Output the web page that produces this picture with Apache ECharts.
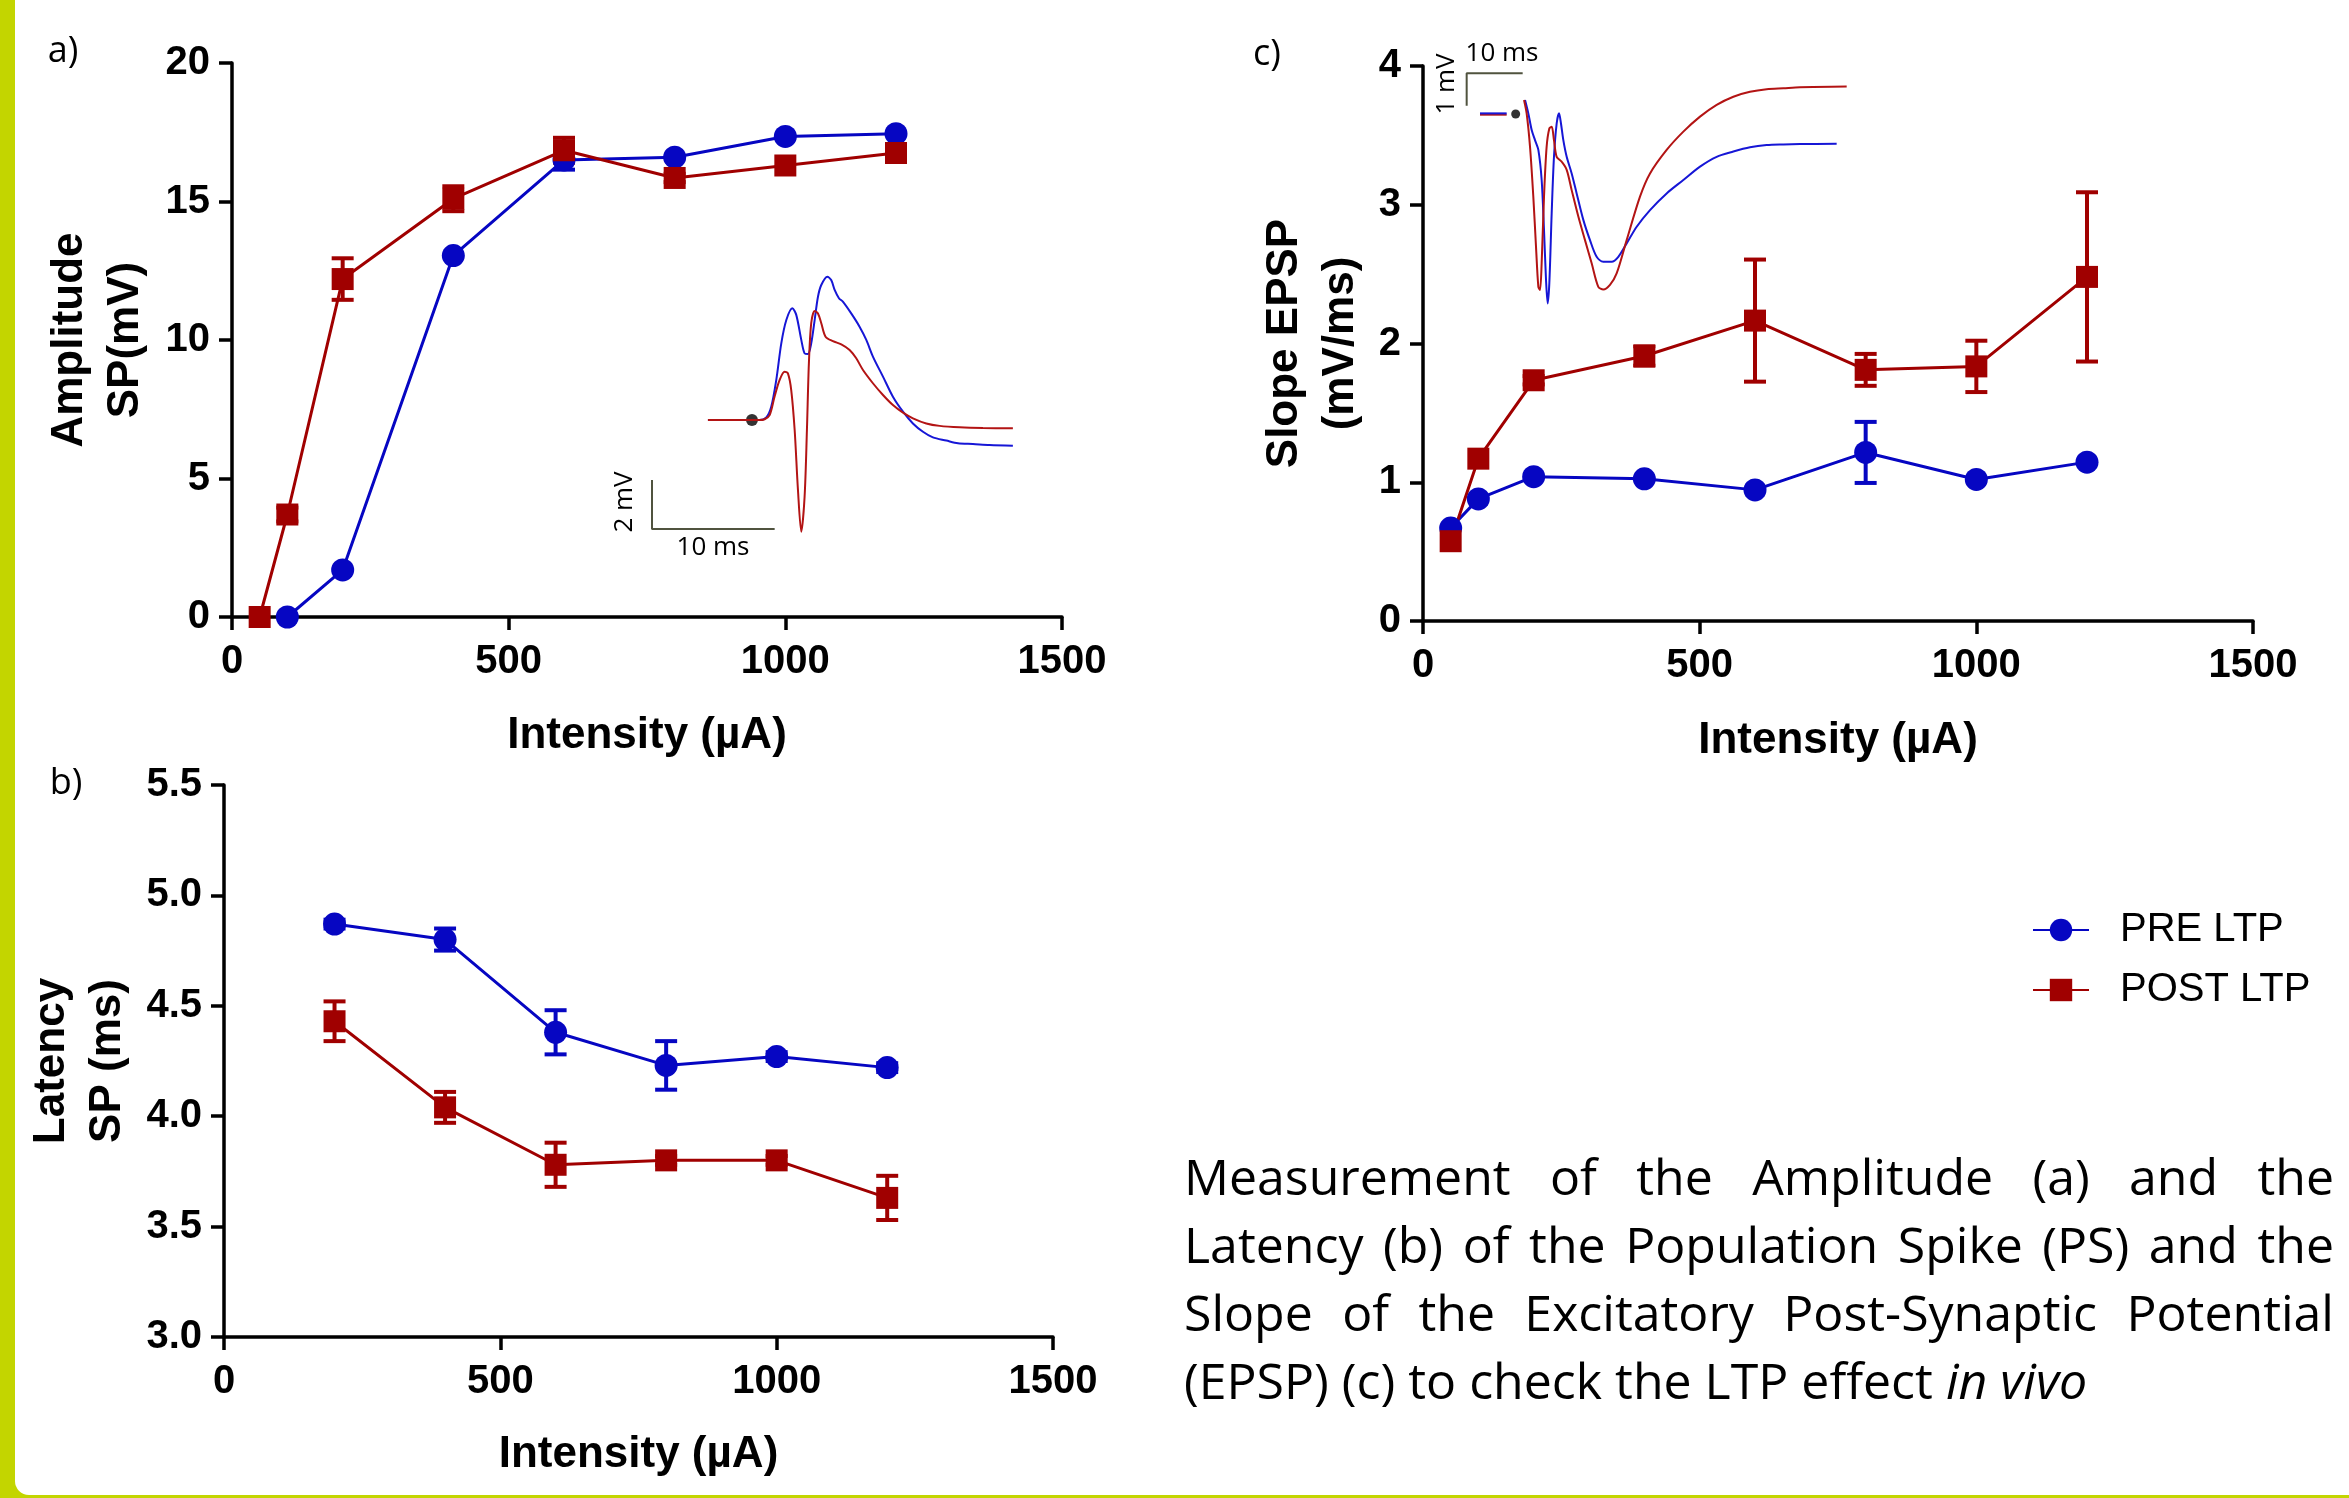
<!DOCTYPE html>
<html>
<head>
<meta charset="utf-8">
<script src="https://cdn.jsdelivr.net/npm/echarts@6/dist/echarts.min.js"></script>
<style>
  html, body { margin: 0; padding: 0; width: 2349px; height: 1498px; overflow: hidden; background: #c3d500; }
  #sheet { position: absolute; left: 15px; top: 0; width: 2334px; height: 1495px; background: #fff; border-bottom-left-radius: 14px; }
  #chart { position: absolute; left: 0; top: 0; width: 2349px; height: 1498px; }
  #caption { position: absolute; left: 1184px; top: 1142px; width: 1150px; font-family: 'Open Sans', sans-serif; font-size: 50px; line-height: 68px; color: #000; }
  #caption div { white-space: nowrap; text-align: justify; text-align-last: justify; }
  #caption div.last { text-align-last: left; }
</style>
</head>
<body>
<div id="sheet"></div>
<div id="chart"></div>
<div id="caption">
  <div>Measurement of the Amplitude (a) and the</div>
  <div>Latency (b) of the Population Spike (PS) and the</div>
  <div>Slope of the Excitatory Post-Synaptic Potential</div>
  <div class="last">(EPSP) (c) to check the LTP effect <i>in vivo</i></div>
</div>
<script>
// x axis ticks (Intensity, µA) shared by the three panels
const intensityTicks = [0, 500, 1000, 1500];

// a) Amplitude SP (mV)
const ampTicks = [0, 5, 10, 15, 20];
const ampPreX = [100, 200, 400, 600, 800, 1000, 1200];
const ampPreY = [0, 1.7, 13.05, 16.5, 16.6, 17.35, 17.45];
const ampPreErr = [0, 0, 0, 0.35, 0, 0, 0];
const ampPostX = [50, 100, 200, 400, 600, 800, 1000, 1200];
const ampPostY = [0, 3.7, 12.2, 15.1, 16.85, 15.85, 16.3, 16.75];
const ampPostErr = [0, 0.25, 0.75, 0.45, 0.45, 0.15, 0, 0];

// b) Latency SP (ms)
const latTicks = [3.0, 3.5, 4.0, 4.5, 5.0, 5.5];
const latX = [200, 400, 600, 800, 1000, 1200];
const latPreY = [4.87, 4.8, 4.38, 4.23, 4.27, 4.22];
const latPreErr = [0.02, 0.05, 0.1, 0.11, 0.02, 0.02];
const latPostY = [4.43, 4.04, 3.78, 3.8, 3.8, 3.63];
const latPostErr = [0.09, 0.07, 0.1, 0.02, 0.02, 0.1];

// c) Slope EPSP (mV/ms)
const slopeTicks = [0, 1, 2, 3, 4];
const slopeX = [50, 100, 200, 400, 600, 800, 1000, 1200];
const slopePreY = [0.67, 0.88, 1.04, 1.025, 0.945, 1.215, 1.02, 1.145];
const slopePreErr = [0, 0, 0, 0, 0, 0.22, 0, 0];
const slopePostY = [0.575, 1.17, 1.735, 1.91, 2.165, 1.81, 1.835, 2.48];
const slopePostErr = [0, 0, 0.03, 0.07, 0.44, 0.115, 0.185, 0.61];

// inset a: population spike traces (ms, mV)
const psPreT = [0, 4.2, 4.76, 5.16, 5.57, 5.98, 6.39, 6.88, 7.2, 7.61, 7.88, 8.15, 8.42, 8.7, 8.97, 9.24, 9.73, 10.05, 10.33, 10.68, 11.0, 11.68, 12.36, 12.91, 13.45, 14.27, 15.08, 15.9, 16.71, 17.53, 18.34, 19.43, 20.38, 21.6, 22.96, 24.86];
const psPreV = [0, 0, 0.11, 0.54, 1.63, 3.13, 4.08, 4.56, 4.29, 3.27, 2.72, 2.69, 3.13, 4.08, 5.03, 5.51, 5.85, 5.71, 5.31, 4.97, 4.83, 4.35, 3.81, 3.27, 2.59, 1.77, 0.95, 0.34, -0.14, -0.48, -0.71, -0.84, -0.95, -0.98, -1.02, -1.05];
const psPostT = [0, 4.2, 4.62, 5.03, 5.43, 5.84, 6.25, 6.52, 6.79, 7.07, 7.34, 7.61, 7.88, 8.07, 8.23, 8.42, 8.7, 8.97, 9.24, 9.59, 10.19, 10.87, 11.55, 12.09, 12.64, 13.45, 14.27, 15.08, 15.9, 16.71, 17.8, 18.89, 20.52, 22.42, 24.86];
const psPostV = [0, 0, 0.03, 0.2, 0.95, 1.63, 1.97, 1.9, 1.22, -0.41, -2.86, -4.56, -3.13, -0.41, 2.31, 3.95, 4.45, 4.35, 3.95, 3.4, 3.22, 3.09, 2.86, 2.52, 2.04, 1.5, 1.02, 0.61, 0.3, 0.07, -0.14, -0.24, -0.3, -0.33, -0.34];
const psStim = [3.59, 0];
const psBarT = [-4.56, -4.56, 5.44];
const psBarV = [-2.45, -4.45, -4.45];

// inset c: field EPSP traces (ms, mV)
const epspBaseT = [0, 4.76];
const epspPreBaseV = [0.02, 0.02];
const epspPostBaseV = [-0.02, -0.02];
const epspPreT = [8.04, 8.63, 9.23, 9.82, 10.42, 11.01, 11.43, 11.79, 12.08, 12.38, 12.8, 13.21, 13.69, 14.11, 14.46, 14.88, 15.48, 16.37, 17.26, 18.45, 19.64, 20.83, 22.02, 23.51, 24.7, 26.19, 27.98, 30.36, 33.33, 36.31, 39.29, 42.26, 45.24, 48.21, 51.19, 54.17, 57.14, 63.69];
const epspPreV = [0.43, 0.02, -0.49, -0.8, -1.1, -2.02, -3.55, -5.08, -5.8, -5.18, -3.04, -1.31, -0.29, 0.02, -0.29, -0.8, -1.31, -1.82, -2.43, -3.24, -3.86, -4.37, -4.52, -4.52, -4.37, -3.96, -3.45, -2.94, -2.43, -2.02, -1.61, -1.31, -1.15, -1.02, -0.95, -0.93, -0.92, -0.91];
const epspPostT = [7.86, 8.33, 8.93, 9.52, 10.0, 10.42, 10.71, 11.01, 11.43, 11.9, 12.38, 12.8, 13.21, 13.69, 14.58, 15.48, 16.37, 17.56, 18.75, 19.94, 21.13, 22.02, 23.21, 24.4, 26.19, 28.57, 30.36, 33.33, 36.31, 39.29, 42.26, 45.24, 48.21, 51.19, 54.17, 57.14, 65.48];
const epspPostV = [0.43, 0.02, -1.0, -2.53, -4.06, -5.29, -5.39, -4.57, -2.53, -1.0, -0.44, -0.39, -0.8, -1.31, -1.46, -1.71, -2.33, -3.14, -3.86, -4.57, -5.29, -5.37, -5.23, -4.88, -3.86, -2.53, -1.82, -1.1, -0.54, -0.08, 0.28, 0.53, 0.68, 0.76, 0.79, 0.82, 0.84];
const epspStim = [6.37, 0];
const epspBarT = [-2.38, -2.38, 7.62];
const epspBarV = [0.25, 1.25, 1.25];

const BLUE = '#0606c2';
const RED = '#a00000';
const TRACE_BLUE = '#1616d6';
const TRACE_RED = '#b31414';
const BAR_COLOR = '#50533f';
const BOLD = "'Liberation Sans', Arial, sans-serif";

const pairs = (xs, ys) => xs.map((x, i) => [x, ys[i]]);
const triples = (xs, ys, es) => xs.map((x, i) => [x, ys[i], es[i]]);

function tickLabel(extra) {
  return Object.assign({ fontFamily: BOLD, fontWeight: 'bold', fontSize: 40, color: '#000', margin: 22 }, extra);
}

function valueAxis(idx, ticks, opts) {
  return Object.assign({
    gridIndex: idx,
    type: 'value',
    min: ticks[0],
    max: ticks[ticks.length - 1],
    interval: ticks[1] - ticks[0],
    nameLocation: 'middle',
    nameTextStyle: { fontFamily: BOLD, fontWeight: 'bold', fontSize: 44, color: '#000', lineHeight: 56 },
    axisLine: { show: true, onZero: false, lineStyle: { color: '#000', width: 3.5 } },
    axisTick: { show: true, inside: false, length: 13, lineStyle: { color: '#000', width: 3.5 } },
    axisLabel: tickLabel({ formatter: v => String(v) }),
    splitLine: { show: false }
  }, opts);
}

function hiddenAxis(idx, min, max) {
  return { gridIndex: idx, type: 'value', min, max, show: false, splitLine: { show: false } };
}

function dataLine(name, idx, xs, ys, color, symbol) {
  return {
    name, type: 'line', xAxisIndex: idx, yAxisIndex: idx,
    data: pairs(xs, ys), symbol, symbolSize: symbol === 'circle' ? 23 : 22,
    clip: false, lineStyle: { color, width: 3 }, itemStyle: { color }
  };
}

function errorBars(name, idx, xs, ys, es, color) {
  return {
    name, type: 'custom', xAxisIndex: idx, yAxisIndex: idx,
    data: triples(xs, ys, es), encode: { x: 0, y: 1 }, clip: false, silent: true,
    renderItem(params, api) {
      const x = api.value(0), y = api.value(1), e = api.value(2);
      if (!e) return { type: 'group', children: [] };
      const hi = api.coord([x, y + e]);
      const lo = api.coord([x, y - e]);
      const hw = 11;
      const style = { stroke: color, lineWidth: 4 };
      return {
        type: 'group',
        children: [
          { type: 'line', shape: { x1: hi[0], y1: hi[1], x2: lo[0], y2: lo[1] }, style },
          { type: 'line', shape: { x1: hi[0] - hw, y1: hi[1], x2: hi[0] + hw, y2: hi[1] }, style },
          { type: 'line', shape: { x1: lo[0] - hw, y1: lo[1], x2: lo[0] + hw, y2: lo[1] }, style }
        ]
      };
    }
  };
}

function trace(name, idx, ts, vs, color, width, smooth) {
  return {
    name, type: 'line', xAxisIndex: idx, yAxisIndex: idx, data: pairs(ts, vs),
    symbol: 'none', smooth: smooth, clip: false, lineStyle: { color, width }, silent: true
  };
}

function dot(name, idx, point, size) {
  return {
    name, type: 'scatter', xAxisIndex: idx, yAxisIndex: idx, data: [point],
    symbolSize: size, itemStyle: { color: '#000' }, silent: true, clip: false
  };
}

const chart = echarts.init(document.getElementById('chart'));
chart.setOption({
  animation: false,
  backgroundColor: 'transparent',
  grid: [
    { left: 232, top: 63, width: 830, height: 554 },
    { left: 224, top: 785, width: 829, height: 552 },
    { left: 1423, top: 66, width: 830, height: 555 },
    { left: 646.6, top: 273, width: 368, height: 269.5 },
    { left: 1452, top: 48.7, width: 420, height: 261.3 }
  ],
  xAxis: [
    valueAxis(0, intensityTicks, { name: 'Intensity (µA)', nameGap: 91, axisLabel: tickLabel({ margin: 25, formatter: v => String(v) }) }),
    valueAxis(1, intensityTicks, { name: 'Intensity (µA)', nameGap: 90, axisLabel: tickLabel({ margin: 25, formatter: v => String(v) }) }),
    valueAxis(2, intensityTicks, { name: 'Intensity (µA)', nameGap: 92, axisLabel: tickLabel({ margin: 25, formatter: v => String(v) }) }),
    hiddenAxis(3, -5, 25),
    hiddenAxis(4, -5, 70)
  ],
  yAxis: [
    valueAxis(0, ampTicks, { name: 'Amplitude\nSP(mV)', nameGap: 78, nameRotate: 90 }),
    valueAxis(1, latTicks, {
      name: 'Latency\nSP (ms)', nameGap: 88, nameRotate: 90,
      axisLabel: tickLabel({ formatter: v => v.toFixed(1) })
    }),
    valueAxis(2, slopeTicks, { name: 'Slope EPSP\n(mV/ms)', nameGap: 54, nameRotate: 90 }),
    hiddenAxis(3, -5, 6),
    hiddenAxis(4, -6, 2)
  ],
  legend: {
    data: ['PRE LTP', 'POST LTP'],
    orient: 'vertical',
    left: 2027,
    top: 905,
    itemWidth: 56,
    itemHeight: 28,
    itemGap: 20,
    textStyle: { fontFamily: BOLD, fontSize: 40, color: '#000', padding: [0, 0, 0, 26] }
  },
  graphic: [
    { type: 'text', x: 63, y: 52, style: { text: 'a)', font: '36px "Open Sans"', fill: '#000', textAlign: 'center', textVerticalAlign: 'middle' } },
    { type: 'text', x: 66, y: 784, style: { text: 'b)', font: '36px "Open Sans"', fill: '#000', textAlign: 'center', textVerticalAlign: 'middle' } },
    { type: 'text', x: 1267, y: 55, style: { text: 'c)', font: '36px "Open Sans"', fill: '#000', textAlign: 'center', textVerticalAlign: 'middle' } },
    { type: 'text', x: 713, y: 548, style: { text: '10 ms', font: '26px "Open Sans"', fill: '#000', textAlign: 'center', textVerticalAlign: 'middle' } },
    { type: 'text', x: 625, y: 502, rotation: Math.PI / 2, style: { text: '2 mV', font: '26px "Open Sans"', fill: '#000', textAlign: 'center', textVerticalAlign: 'middle' } },
    { type: 'text', x: 1502, y: 54, style: { text: '10 ms', font: '26px "Open Sans"', fill: '#000', textAlign: 'center', textVerticalAlign: 'middle' } },
    { type: 'text', x: 1447, y: 84, rotation: Math.PI / 2, style: { text: '1 mV', font: '26px "Open Sans"', fill: '#000', textAlign: 'center', textVerticalAlign: 'middle' } }
  ],
  series: [
    // a) amplitude
    errorBars('PRE err a', 0, ampPreX, ampPreY, ampPreErr, BLUE),
    dataLine('PRE LTP', 0, ampPreX, ampPreY, BLUE, 'circle'),
    errorBars('POST err a', 0, ampPostX, ampPostY, ampPostErr, RED),
    dataLine('POST LTP', 0, ampPostX, ampPostY, RED, 'rect'),
    // b) latency
    errorBars('PRE err b', 1, latX, latPreY, latPreErr, BLUE),
    dataLine('PRE LTP', 1, latX, latPreY, BLUE, 'circle'),
    errorBars('POST err b', 1, latX, latPostY, latPostErr, RED),
    dataLine('POST LTP', 1, latX, latPostY, RED, 'rect'),
    // c) slope
    errorBars('PRE err c', 2, slopeX, slopePreY, slopePreErr, BLUE),
    dataLine('PRE LTP', 2, slopeX, slopePreY, BLUE, 'circle'),
    errorBars('POST err c', 2, slopeX, slopePostY, slopePostErr, RED),
    dataLine('POST LTP', 2, slopeX, slopePostY, RED, 'rect'),
    // inset a
    trace('PS pre', 3, psPreT, psPreV, TRACE_BLUE, 2, 0.3),
    trace('PS post', 3, psPostT, psPostV, TRACE_RED, 2, 0.3),
    trace('PS bar', 3, psBarT, psBarV, BAR_COLOR, 2, false),
    dot('PS stim', 3, psStim, 12),
    // inset c
    trace('EPSP post base', 4, epspBaseT, epspPostBaseV, TRACE_RED, 2, false),
    trace('EPSP pre base', 4, epspBaseT, epspPreBaseV, TRACE_BLUE, 2, false),
    trace('EPSP pre', 4, epspPreT, epspPreV, TRACE_BLUE, 2, 0.3),
    trace('EPSP post', 4, epspPostT, epspPostV, TRACE_RED, 2, 0.3),
    trace('EPSP bar', 4, epspBarT, epspBarV, BAR_COLOR, 2, false),
    dot('EPSP stim', 4, epspStim, 9)
  ]
});
</script>
</body>
</html>
